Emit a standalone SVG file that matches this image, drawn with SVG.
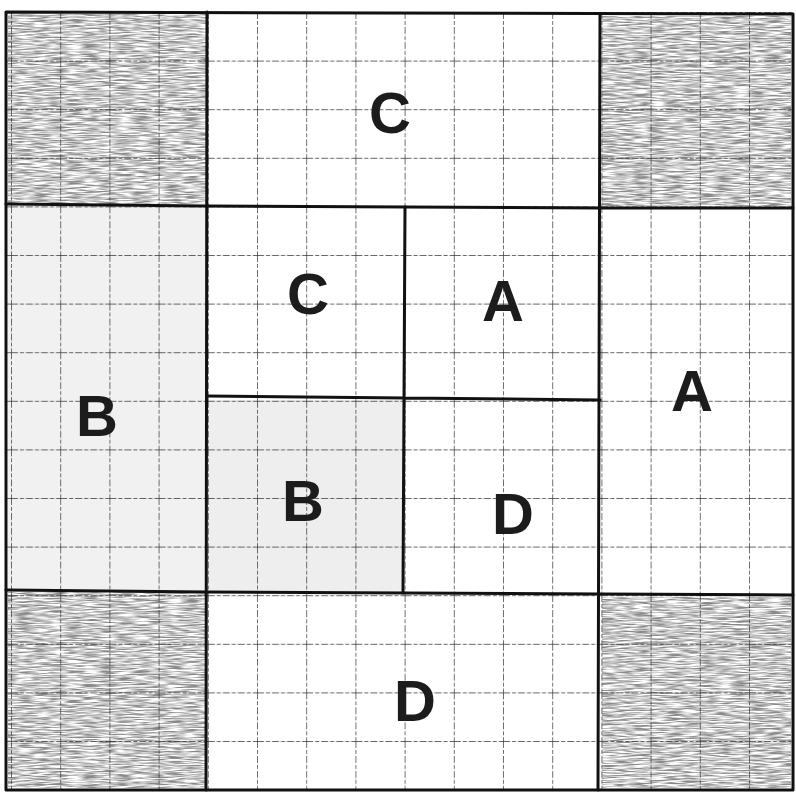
<svg xmlns="http://www.w3.org/2000/svg" width="796" height="794" viewBox="0 0 796 794">
<defs>
<filter id="grain" x="0" y="0" width="100%" height="100%">
<feTurbulence type="fractalNoise" baseFrequency="0.06 0.7" numOctaves="2" seed="5" result="n"/>
<feColorMatrix in="n" type="matrix" values="0 0 0 0 0.25  0 0 0 0 0.25  0 0 0 0 0.25  0 0 0 -2.6 1.75" result="a"/>
<feComposite in="a" in2="SourceGraphic" operator="in"/>
</filter>
<pattern id="thin" x="11" y="12" width="49.2" height="48.6" patternUnits="userSpaceOnUse">
<path d="M0 0V48.6M0 0H49.2" fill="none" stroke="#333" stroke-width="1.4" stroke-dasharray="7 2 4 2"/>
</pattern>
</defs>
<style>
.shade{fill:#a9a9a9}
.thick{stroke:#111;stroke-width:3;fill:none;stroke-linecap:round}
.lbl{font-family:"Liberation Sans",Arial,sans-serif;font-weight:bold;font-size:58px;fill:#1c1c1c;text-anchor:middle}
</style>
<rect width="796" height="794" fill="#ffffff"/>
<g id="shading">
<rect class="shade" x="8" y="14" width="198" height="190" filter="url(#grain)"/>
<rect class="shade" x="602" y="16" width="189" height="190" filter="url(#grain)"/>
<rect class="shade" x="8" y="592" width="198" height="196" filter="url(#grain)"/>
<rect class="shade" x="602" y="597" width="189" height="191" filter="url(#grain)"/>
<rect x="8" y="206" width="198" height="385" fill="#f1f1f1"/>
<rect x="208" y="400" width="196" height="192" fill="#eeeeee"/>
</g>
<rect id="graph" x="6" y="12" width="787" height="778" fill="url(#thin)"/>
<g id="connectors">
<path class="thick" d="M6 12L793 14M6 12L6 790M793 14L793 790M6 790L793 790"/>
<path class="thick" d="M207 12L206 790M600 14L598 790"/>
<path class="thick" d="M6 204L207 206L600 208L793 208M6 590L207 592L600 594L793 595"/>
<path class="thick" d="M405 207L403 593M207 396L405 398L600 400"/>
</g>
<g id="n-top"><text class="lbl" x="390" y="133">C</text></g>
<g id="n-left"><text class="lbl" x="97" y="436">B</text></g>
<g id="n-c1"><text class="lbl" x="308" y="314">C</text></g>
<g id="n-a1"><text class="lbl" x="503" y="321">A</text></g>
<g id="n-right"><text class="lbl" x="692" y="411">A</text></g>
<g id="n-b1"><text class="lbl" x="303" y="521">B</text></g>
<g id="n-d1"><text class="lbl" x="513" y="534">D</text></g>
<g id="n-bottom"><text class="lbl" x="415" y="721">D</text></g>
</svg>
